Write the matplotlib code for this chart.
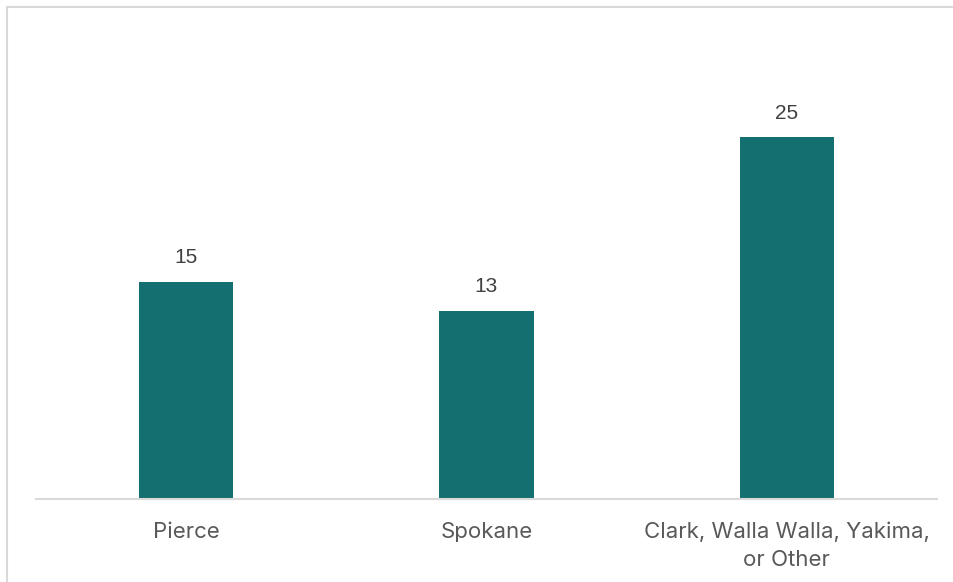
import matplotlib.pyplot as plt
from matplotlib.lines import Line2D

categories = ["Pierce", "Spokane", "Clark, Walla Walla, Yakima,\nor Other"]
counts = [15, 13, 25]

BAR_COLOR = "#136f70"
W, H = 954, 582

fig = plt.figure(figsize=(W / 100, H / 100), dpi=100)
ax = fig.add_axes([36 / W, (H - 499) / H, 901 / W, 434 / H])

x = range(len(categories))
ax.bar(x, counts, width=0.313, color=BAR_COLOR, zorder=2)
ax.set_xlim(-0.5, len(categories) - 0.5)
ax.set_ylim(0, 30)

for xi, v in zip(x, counts):
    ax.annotate(str(v), (xi, v), xytext=(0, 10.5), textcoords="offset points",
                ha="center", va="bottom", fontsize=15, color="#404040",
                family="Liberation Sans")

ax.set_xticks(list(x))
ax.set_xticklabels(categories, fontsize=16, color="#595959", family="Inter",
                   linespacing=1.45)
ax.tick_params(axis="x", length=0, pad=16.5)
ax.set_yticks([])
for side in ["top", "right", "left"]:
    ax.spines[side].set_visible(False)
ax.spines["bottom"].set_color("#d9d9d9")
ax.spines["bottom"].set_linewidth(1.5)

# chart area frame, only top and left edges fall inside the image
fig.add_artist(Line2D([7 / W, 7 / W], [0, (H - 7) / H], color="#d9d9d9", lw=1.5,
                      transform=fig.transFigure))
fig.add_artist(Line2D([7 / W, 1], [(H - 7) / H, (H - 7) / H], color="#d9d9d9",
                      lw=1.5, transform=fig.transFigure))

fig.savefig("out.png", dpi=100)
